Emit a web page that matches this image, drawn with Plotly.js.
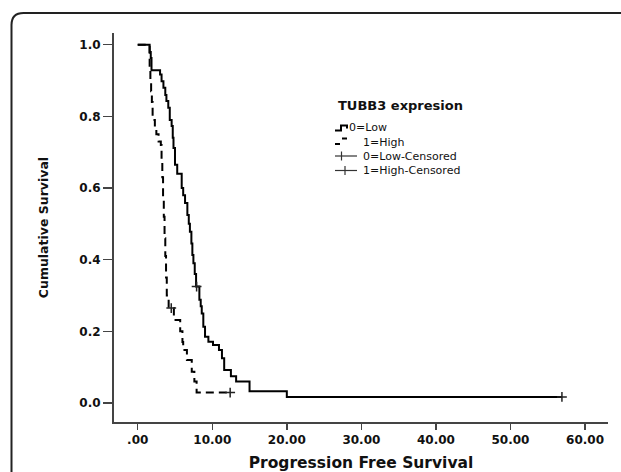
<!DOCTYPE html>
<html>
<head>
<meta charset="utf-8">
<script src="https://cdn.plot.ly/plotly-3.0.1.min.js"></script>
<style>html,body{margin:0;padding:0;background:#fff;}#chart{width:621px;height:472px;}</style>
</head>
<body>
<div id="chart"></div>
<script>
// ---- data ----
var lowTimes = [0, 1.6, 1.75, 1.85, 3.0, 3.2, 3.45, 3.7, 3.85, 4.1, 4.3, 4.55, 4.7, 4.8, 5.0, 5.3, 5.9, 6.1, 6.35, 6.66, 6.85, 7.0, 7.2, 7.33, 7.47, 7.65, 7.83, 8.27, 8.45, 8.59, 8.8, 9.03, 9.48, 10.1, 10.9, 11.3, 11.6, 12.5, 13.2, 15.0, 20.0, 56.9];
var lowSurv  = [1.0, 0.98, 0.963, 0.929, 0.917, 0.898, 0.88, 0.86, 0.843, 0.824, 0.79, 0.773, 0.74, 0.712, 0.665, 0.64, 0.60, 0.58, 0.558, 0.525, 0.50, 0.478, 0.445, 0.413, 0.39, 0.36, 0.325, 0.288, 0.27, 0.25, 0.213, 0.185, 0.171, 0.162, 0.148, 0.125, 0.092, 0.075, 0.06, 0.033, 0.017, 0.017];
var lowCensT = [7.9, 56.9];
var lowCensS = [0.325, 0.017];

var highTimes = [0, 1.6, 1.7, 1.8, 1.9, 2.0, 2.3, 2.5, 2.8, 3.1, 3.2, 3.3, 3.4, 3.5, 3.6, 3.7, 3.8, 3.9, 4.15, 4.85, 5.7, 6.0, 6.1, 6.6, 7.25, 7.6, 7.9, 12.4];
var highSurv  = [1.0, 0.93, 0.90, 0.87, 0.84, 0.79, 0.77, 0.75, 0.73, 0.72, 0.68, 0.63, 0.57, 0.52, 0.46, 0.41, 0.35, 0.30, 0.265, 0.232, 0.20, 0.17, 0.148, 0.12, 0.087, 0.06, 0.029, 0.029];
var highCensT = [4.5, 12.4];
var highCensS = [0.265, 0.029];

var xTickVals = [0, 10, 20, 30, 40, 50, 60];
var xTickText = ['.00', '10.00', '20.00', '30.00', '40.00', '50.00', '60.00'];
var yTickVals = [0, 0.2, 0.4, 0.6, 0.8, 1.0];
var yTickText = ['0.0', '0.2', '0.4', '0.6', '0.8', '1.0'];

var legendTitle = 'TUBB3 expresion';
var legendNames = ['0=Low', '1=High', '0=Low-Censored', '1=High-Censored'];
var xTitle = 'Progression Free Survival';
var yTitle = 'Cumulative Survival';

// ---- layout geometry ----
var W = 621, H = 472;
var M = {l: 114, r: 13, t: 33, b: 50};
var PW = W - M.l - M.r, PH = H - M.t - M.b;
function px(x) { return (x - M.l) / PW; }
function py(y) { return (H - M.b - y) / PH; }

var traces = [
  {x: lowTimes, y: lowSurv, mode: 'lines', line: {shape: 'hv', color: '#000', width: 2}, name: legendNames[0], showlegend: false, hoverinfo: 'skip'},
  {x: highTimes, y: highSurv, mode: 'lines', line: {shape: 'hv', color: '#000', width: 2, dash: '8px,5px'}, name: legendNames[1], showlegend: false, hoverinfo: 'skip'},
  {x: lowCensT, y: lowCensS, mode: 'markers', marker: {symbol: 'cross-thin', size: 7, line: {color: '#222', width: 1.5}}, name: legendNames[2], showlegend: false, hoverinfo: 'skip'},
  {x: highCensT, y: highCensS, mode: 'markers', marker: {symbol: 'cross-thin', size: 7, line: {color: '#222', width: 1.5}}, name: legendNames[3], showlegend: false, hoverinfo: 'skip'}
];

function pathPx(pts) {
  return pts.map(function (p, i) {
    if (p[0] === 'Q') return 'Q' + px(p[1]) + ',' + py(p[2]) + ' ' + px(p[3]) + ',' + py(p[4]);
    return (i === 0 ? 'M' : 'L') + px(p[0]) + ',' + py(p[1]);
  }).join(' ');
}

var shapes = [
  // outer rounded frame
  {type: 'path', xref: 'paper', yref: 'paper', layer: 'above',
   path: pathPx([[11.5, 520], [11.5, 25], ['Q', 11.5, 13, 23.5, 13], [660, 13]]),
   line: {color: '#222', width: 2}},
  // legend glyph: 0=Low (step)
  {type: 'path', xref: 'paper', yref: 'paper',
   path: pathPx([[335, 130.5], [341, 130.5], [341, 125.5], [347, 125.5], [347, 128.5]]),
   line: {color: '#000', width: 2}},
  // legend glyph: 1=High (dashes)
  {type: 'path', xref: 'paper', yref: 'paper', path: pathPx([[335, 144], [340, 144]]), line: {color: '#000', width: 2}},
  {type: 'path', xref: 'paper', yref: 'paper', path: pathPx([[342, 138.5], [347, 138.5]]), line: {color: '#000', width: 2}},
  // legend glyph: 0=Low-Censored
  {type: 'path', xref: 'paper', yref: 'paper', path: pathPx([[335, 156], [357, 156]]), line: {color: '#333', width: 1.2}},
  {type: 'path', xref: 'paper', yref: 'paper', path: pathPx([[341.5, 151.5], [341.5, 160.5]]), line: {color: '#333', width: 1.2}},
  // legend glyph: 1=High-Censored
  {type: 'path', xref: 'paper', yref: 'paper', path: pathPx([[335, 170.5], [357, 170.5]]), line: {color: '#333', width: 1.2}},
  {type: 'path', xref: 'paper', yref: 'paper', path: pathPx([[345, 166], [345, 175]]), line: {color: '#333', width: 1.2}}
];

var legFont = {family: 'DejaVu Sans, sans-serif', size: 11, color: '#111'};
var annotations = [
  {xref: 'paper', yref: 'paper', x: px(336), y: py(105), xanchor: 'left', yanchor: 'middle', showarrow: false,
   text: legendTitle, font: {family: 'DejaVu Sans, sans-serif', size: 13, color: '#111', weight: 'bold'}},
  {xref: 'paper', yref: 'paper', x: px(347), y: py(128), xanchor: 'left', yanchor: 'middle', showarrow: false, text: legendNames[0], font: legFont},
  {xref: 'paper', yref: 'paper', x: px(361), y: py(142.5), xanchor: 'left', yanchor: 'middle', showarrow: false, text: legendNames[1], font: legFont},
  {xref: 'paper', yref: 'paper', x: px(361), y: py(156.5), xanchor: 'left', yanchor: 'middle', showarrow: false, text: legendNames[2], font: legFont},
  {xref: 'paper', yref: 'paper', x: px(361), y: py(171), xanchor: 'left', yanchor: 'middle', showarrow: false, text: legendNames[3], font: legFont}
];

var tickFont = {family: 'DejaVu Sans, sans-serif', size: 12, color: '#111', weight: 'bold'};
var layout = {
  width: W, height: H,
  margin: M,
  paper_bgcolor: '#fff', plot_bgcolor: '#fff',
  showlegend: false,
  xaxis: {
    range: [-3.18, 63.08], showgrid: false, zeroline: false,
    showline: true, linecolor: '#444', linewidth: 2,
    ticks: 'outside', ticklen: 6, tickwidth: 1.5, tickcolor: '#444',
    tickvals: xTickVals, ticktext: xTickText, tickfont: tickFont,
    title: {text: xTitle, standoff: 12, font: {family: 'DejaVu Sans, sans-serif', size: 15.5, color: '#111', weight: 'bold'}}
  },
  yaxis: {
    range: [-0.053, 1.0327], showgrid: false, zeroline: false,
    showline: true, linecolor: '#444', linewidth: 2,
    ticks: 'outside', ticklen: 9, tickwidth: 1.5, tickcolor: '#444',
    tickvals: yTickVals, ticktext: yTickText, tickfont: tickFont,
    title: {text: yTitle, standoff: 28, font: {family: 'DejaVu Sans, sans-serif', size: 12.5, color: '#111', weight: 'bold'}}
  },
  shapes: shapes,
  annotations: annotations
};

Plotly.newPlot('chart', traces, layout, {displayModeBar: false, staticPlot: true});
</script>
</body>
</html>
